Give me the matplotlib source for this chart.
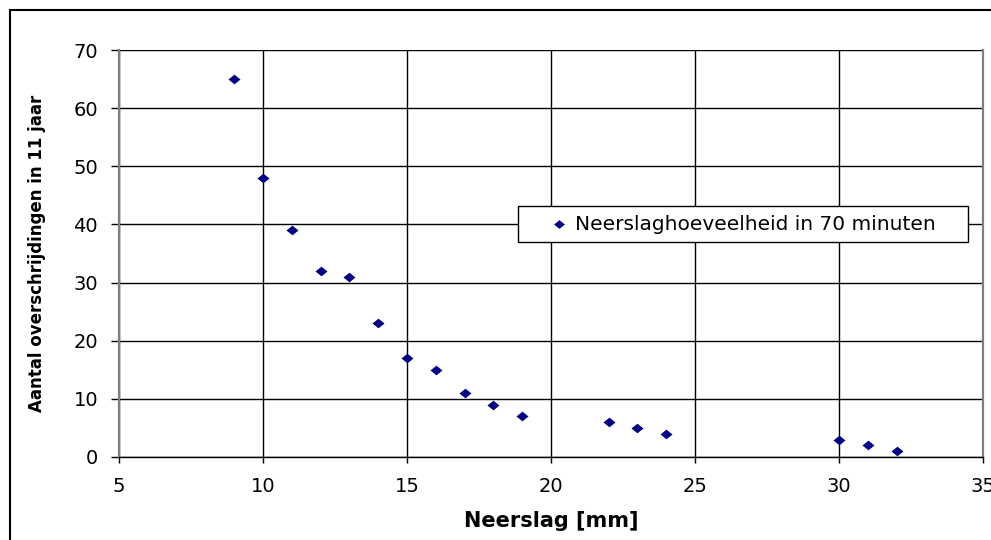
import matplotlib
matplotlib.use("Agg")
import matplotlib.pyplot as plt
from matplotlib.patches import Rectangle

neerslag = [9, 10, 11, 12, 13, 14, 15, 16, 17, 18, 19, 22, 23, 24, 30, 31, 32]
aantal = [65, 48, 39, 32, 31, 23, 17, 15, 11, 9, 7, 6, 5, 4, 3, 2, 1]
x_ticks = [5, 10, 15, 20, 25, 30, 35]
y_ticks = [0, 10, 20, 30, 40, 50, 60, 70]
series_label = "Neerslaghoeveelheid in 70 minuten"

plt.rcParams['font.family'] = ['DejaVu Sans']

W, H = 991, 540
L, R, T, B = 119, 983, 50, 457
fig = plt.figure(figsize=(W / 100, H / 100), dpi=100)
ax = fig.add_axes([L / W, 1 - B / H, (R - L) / W, (B - T) / H])

diamond = [(-1, 0), (0, 0.8), (1, 0), (0, -0.8), (-1, 0)]
ax.scatter(neerslag, aantal, marker=diamond, s=75, color='#000080', zorder=3,
           label=series_label, clip_on=False, linewidths=0)

ax.set_xlim(5, 35)
ax.set_ylim(0, 70)
ax.set_xticks(x_ticks)
ax.set_yticks(y_ticks)
ax.grid(True, color='black', linewidth=1.0)
ax.set_axisbelow(True)
for side in ['left', 'right']:
    ax.spines[side].set_color('#808080')
    ax.spines[side].set_linewidth(1.6)
ax.spines['top'].set_visible(False)
ax.spines['bottom'].set_color('black')
ax.spines['bottom'].set_linewidth(1.0)
ax.tick_params(axis='both', labelsize=14, direction='out', width=1.0, colors='black')
ax.tick_params(axis='y', length=6, pad=9)
ax.tick_params(axis='x', length=4.5, pad=10)

ax.set_xlabel("Neerslag [mm]", fontsize=15, fontweight='bold')
ax.xaxis.set_label_coords(0.5, (B - 511) / (B - T))
ax.set_ylabel("Aantal overschrijdingen in 11 jaar", fontsize=12, fontweight='bold')
ax.yaxis.set_label_coords((46 - L) / (R - L), 0.5)

# legend box
bx0, bx1, by0, by1 = 518, 968, 206, 242
ax.add_patch(Rectangle(((bx0 - L) / (R - L), (B - by1) / (B - T)),
                       (bx1 - bx0) / (R - L), (by1 - by0) / (B - T),
                       transform=ax.transAxes, facecolor='white', edgecolor='black',
                       linewidth=1.0, zorder=4, clip_on=False))
leg = ax.legend(loc='center left',
                bbox_to_anchor=((549 - L) / (R - L), (B - 224) / (B - T)),
                fontsize=14.5, frameon=False, borderpad=0, borderaxespad=0,
                handlelength=1.0, handletextpad=0.3, markerscale=0.9)
leg.set_zorder(5)

fig.patches.append(Rectangle((10 / W, -0.1), 1.2, 1.1 - 10.5 / H, transform=fig.transFigure,
                             fill=False, edgecolor='black', linewidth=1.5))

fig.savefig("out.png", dpi=100)
